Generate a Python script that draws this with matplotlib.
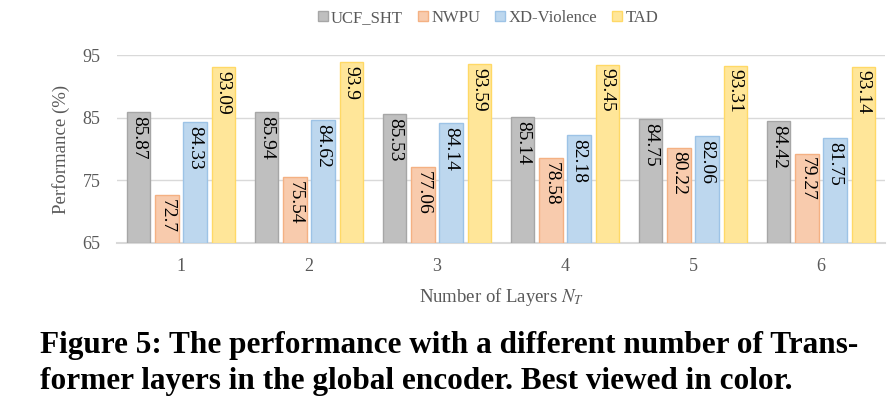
import numpy as np
import matplotlib
matplotlib.use("Agg")
import matplotlib.pyplot as plt

plt.rcParams['font.family'] = ['Liberation Serif', 'DejaVu Serif']
plt.rcParams['mathtext.fontset'] = 'stix'

# data
layers = ['1', '2', '3', '4', '5', '6']
series = ['UCF_SHT', 'NWPU', 'XD-Violence', 'TAD']
ucf_sht = [85.87, 85.94, 85.53, 85.14, 84.75, 84.42]
nwpu = [72.7, 75.54, 77.06, 78.58, 80.22, 79.27]
xd_violence = [84.33, 84.62, 84.14, 82.18, 82.06, 81.75]
tad = [93.09, 93.9, 93.59, 93.45, 93.31, 93.14]

values = [ucf_sht, nwpu, xd_violence, tad]
labels = [['85.87', '85.94', '85.53', '85.14', '84.75', '84.42'],
          ['72.7', '75.54', '77.06', '78.58', '80.22', '79.27'],
          ['84.33', '84.62', '84.14', '82.18', '82.06', '81.75'],
          ['93.09', '93.9', '93.59', '93.45', '93.31', '93.14']]
faces = ['#BFBFBF', '#F8CBAD', '#BDD7EE', '#FFE699']
edges = ['#A6A6A6', '#F4B183', '#9DC3E6', '#FFD966']
text_grey = '#595959'

fig = plt.figure(figsize=(8.94, 4.12), dpi=100)
ax = fig.add_axes([117 / 894, 1 - 243 / 412, 768 / 894, 188 / 412])

x = np.arange(1, len(layers) + 1)
step = 0.219
width = 0.18
base = 65
for i, (vals, name) in enumerate(zip(values, series)):
    pos = x + (i - 1.5) * step
    heights = [v - base for v in vals]
    ax.bar(pos, heights, width, bottom=base, color=faces[i], edgecolor=edges[i],
           linewidth=1.0, label=name, zorder=3)
    for p, v, t in zip(pos, vals, labels[i]):
        ax.text(p, v - 0.6, t, rotation=-90, ha='center', va='top',
                fontsize=14, color='black', zorder=4)

ax.set_xlim(0.5, 6.5)
ax.set_ylim(65, 95)
ax.set_yticks([65, 75, 85, 95])
ax.set_xticks(x)
ax.set_xticklabels(layers)
ax.tick_params(axis='both', length=0, labelsize=13, colors=text_grey, pad=11)
ax.tick_params(axis='y', pad=12)
ax.grid(axis='y', color='#D9D9D9', linewidth=1.0, zorder=0)
for s in ['top', 'right', 'left']:
    ax.spines[s].set_visible(False)
ax.spines['bottom'].set_color('#D9D9D9')
ax.spines['bottom'].set_linewidth(1.5)

ax.set_ylabel('Performance (%)', fontsize=13.5, color=text_grey, labelpad=9)
ax.set_xlabel('Number of Layers $N_T$', fontsize=13.5, color=text_grey, labelpad=8)

fig.legend(loc='center', bbox_to_anchor=(488 / 894, 1 - 18 / 412), ncol=4,
           frameon=False, fontsize=12, handlelength=0.6, handleheight=0.6,
           handletextpad=0.2, columnspacing=0.9, labelcolor=text_grey)

fig.text(40 / 894, 1 - 345 / 412,
         'Figure 5: The performance with a different number of Trans-',
         fontsize=22.5, fontweight='bold', ha='left', va='center')
fig.text(40 / 894, 1 - 381 / 412,
         'former layers in the global encoder. Best viewed in color.',
         fontsize=22.5, fontweight='bold', ha='left', va='center')

fig.savefig('out.png', dpi=100)
